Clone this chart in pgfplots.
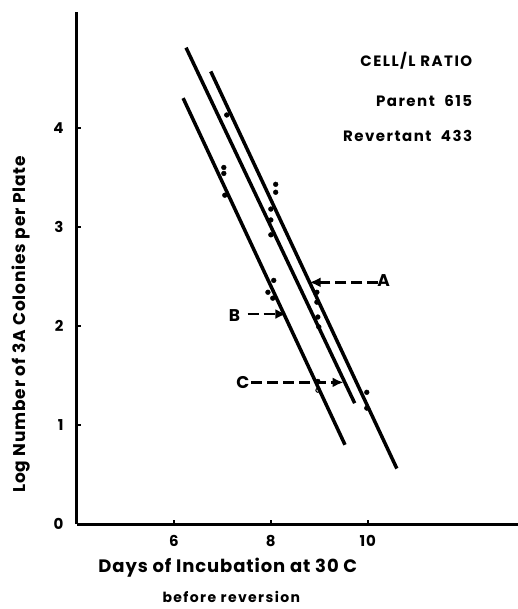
\documentclass[border=0pt]{standalone}
\usepackage{pgfplots}
\pgfplotsset{compat=1.18}
\usepackage{fontspec}
\setmainfont{Poppins}[LetterSpace=5]
\newfontfamily\widefont{Poppins}[LetterSpace=10]
\usetikzlibrary{arrows.meta,calc}
\begin{document}
\begin{tikzpicture}
\begin{axis}[name=ax, scale only axis, width=441pt, height=512pt,
  xmin=4, xmax=13.1, ymin=0, ymax=5.17,
  axis x line=bottom, axis y line=left,
  axis line style={line width=3pt,-},
  xtick={6,8,10}, ytick={0,1,2,3,4},
  tick align=inside, major tick length=4pt,
  tick style={line width=2.5pt, black},
  ticklabel style={font=\fontsize{15}{17}\selectfont\bfseries},
  /pgf/number format/assume math mode=true,
  xticklabel style={yshift=-8pt},
  yticklabel style={xshift=-10pt},
  xlabel={Days of Incubation at 30 C},
  xlabel style={at={(axis description cs:0.342,-0.086)}, anchor=center, font=\fontsize{18}{20}\selectfont\bfseries},
  ylabel={Log Number of 3A Colonies per Plate},
  ylabel style={at={(axis description cs:-0.127,0.39)}, anchor=center, font=\fontsize{17}{20}\selectfont\bfseries},
  clip=false]
\addplot[black, line width=3.5pt] coordinates {(6.19,4.30) (9.53,0.80)};
\addplot[black, line width=3.5pt] coordinates {(6.25,4.81) (9.73,1.22)};
\addplot[black, line width=3.5pt] coordinates {(6.76,4.57) (10.60,0.56)};
\addplot[only marks, mark=*, mark size=2.4pt, black] coordinates {
 (7.09,4.13) (7.03,3.60) (7.03,3.54) (7.05,3.32)
 (8.10,3.43) (8.10,3.35) (8.00,3.18) (8.00,3.07) (8.00,2.92)
 (8.06,2.46) (7.94,2.34) (8.04,2.28)
 (8.95,2.34) (8.95,2.24) (8.97,2.09) (8.99,1.99)
 (8.97,1.44)
 (9.98,1.33) (9.98,1.17)};
\addplot[only marks, mark=o, mark size=2pt, line width=1pt, black] coordinates {(8.97,1.35)};
\draw[line width=2.8pt, dash pattern=on 11pt off 5pt, -{Latex[length=11pt,width=10pt]}] (axis cs:10.22,2.44) -- (axis cs:8.8,2.44);
\draw[line width=2.8pt, dash pattern=on 11pt off 5pt, -{Latex[length=11pt,width=10pt]}] (axis cs:7.52,2.12) -- (axis cs:8.32,2.12);
\draw[line width=2.8pt, dash pattern=on 11pt off 5pt, -{Latex[length=11pt,width=10pt]}] (axis cs:7.6,1.43) -- (axis cs:9.5,1.43);
\node[font=\fontsize{17}{19}\selectfont\bfseries] at (axis cs:10.33,2.46) {A};
\node[font=\fontsize{17}{19}\selectfont\bfseries] at (axis cs:7.25,2.11) {B};
\node[font=\fontsize{17}{19}\selectfont\bfseries] at (axis cs:7.42,1.43) {C};
\node[font=\widefont\fontsize{15}{17}\selectfont\bfseries, anchor=east, inner sep=0pt] at (axis cs:12.16,4.68) {CELL/L RATIO};
\node[font=\widefont\fontsize{15}{17}\selectfont\bfseries, anchor=east, inner sep=0pt] at (axis cs:12.16,4.27) {Parent\ \ 615};
\node[font=\widefont\fontsize{15}{17}\selectfont\bfseries, anchor=east, inner sep=0pt] at (axis cs:12.16,3.92) {Revertant\ \ 433};
\node[font=\widefont\fontsize{14}{16}\selectfont\bfseries, anchor=center] at (axis description cs:0.35,-0.142) {before reversion};
\end{axis}
\pgfresetboundingbox
\path ($(ax.south west)+(-77pt,-85pt)$) rectangle ($(ax.north east)+(0pt,12pt)$);
\end{tikzpicture}
\end{document}
